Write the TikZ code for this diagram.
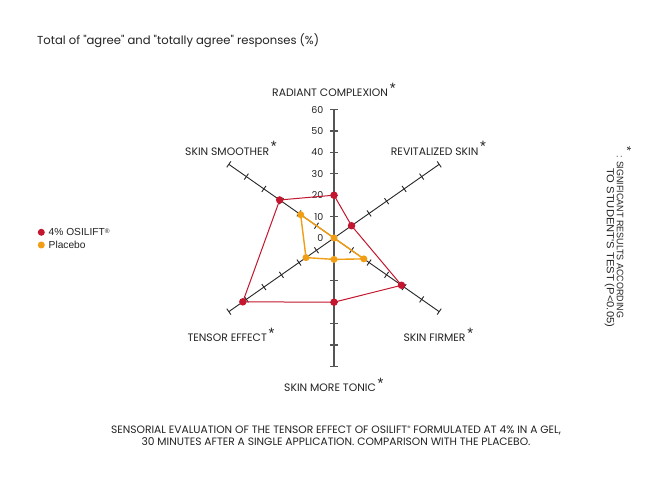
\documentclass[tikz,border=0pt]{standalone}
\usepackage{fontspec}
\setmainfont{Poppins}
\newfontfamily\popplain{Poppins}[Ligatures=TeXOff]
\newfontfamily\arialf{Liberation Sans}
\usetikzlibrary{calc}
\definecolor{osired}{RGB}{196,22,46}
\definecolor{placeborange}{RGB}{242,158,20}
\definecolor{axisgray}{RGB}{85,85,85}
\definecolor{txtgray}{RGB}{35,35,35}
\newcommand{\sigstar}{\,\raisebox{3.5pt}{\arialf\fontsize{15}{15}\selectfont *}}
\begin{document}
\begin{tikzpicture}[x=1pt,y=1pt,
  diagaxis/.style={draw=black!85,line width=0.9pt},
  vaxis/.style={draw=axisgray,line width=1.4pt},
  num/.style={font=\fontsize{9.5}{9.5}\selectfont,text=txtgray,anchor=east,inner sep=0pt},
  axlabel/.style={font=\fontsize{10.8}{10.8}\selectfont,text=txtgray,anchor=west,inner sep=0pt},
  legtext/.style={font=\arialf\fontsize{10.2}{10.2}\selectfont,text=txtgray,anchor=west,inner sep=0pt},
  redline/.style={draw=osired,line width=1pt,line join=round},
  orangeline/.style={draw=placeborange,line width=1.4pt,line join=round},
  reddot/.style={fill=osired,circle,inner sep=0pt,minimum size=7.5pt},
  orangedot/.style={fill=placeborange,circle,inner sep=0pt,minimum size=7pt},
  rottext/.style={text=txtgray,rotate=-90,anchor=west,inner sep=0pt}
]
\useasboundingbox (0,0) rectangle (668,484);
\fill[white] (0,0) rectangle (668,484);
\coordinate (C) at (334,246);

% diagonal axes with ticks
\foreach \a in {35,145,215,-35}{
  \begin{scope}[shift={(C)},rotate=\a]
    \draw[diagaxis] (0,0) -- (128.4,0);
    \foreach \i in {1,...,6} \draw[diagaxis] (21.4*\i,-3.6) -- (21.4*\i,3.6);
  \end{scope}
}
% vertical axis with ticks
\draw[vaxis] (334,117.6) -- (334,374.4);
\foreach \i in {1,...,6}{
  \draw[vaxis,line width=1.2pt] (330.2,246+21.4*\i) -- (337.8,246+21.4*\i);
  \draw[vaxis,line width=1.2pt] (330.2,246-21.4*\i) -- (337.8,246-21.4*\i);
}
% scale numbers
\foreach \v in {0,10,...,60} \node[num] at (323.5,246+2.14*\v) {\v};

% data points
\coordinate (rUp) at ($(C)+(90:42.8)$);
\coordinate (rUR) at ($(C)+(35:21.4)$);
\coordinate (rLR) at ($(C)+(-35:82.4)$);
\coordinate (rDn) at ($(C)+(270:64.2)$);
\coordinate (rLL) at ($(C)+(215:111.3)$);
\coordinate (rUL) at ($(C)+(145:66.3)$);
\coordinate (oLR) at ($(C)+(-35:36.4)$);
\coordinate (oDn) at ($(C)+(270:21.4)$);
\coordinate (oLL) at ($(C)+(215:34.2)$);
\coordinate (oUL) at ($(C)+(145:40.7)$);

\draw[redline] (rUp) -- (rUR) -- (rLR) -- (rDn) -- (rLL) -- (rUL) -- cycle;
\draw[orangeline] (C) -- (oLR) -- (oDn) -- (oLL) -- (oUL) -- cycle;
\foreach \p in {rUp,rUR,rLR,rDn,rLL,rUL} \node[reddot] at (\p) {};
\foreach \p in {C,oLR,oDn,oLL,oUL} \node[orangedot] at (\p) {};

% axis labels
\node[axlabel] (lRad) at (272,394) {RADIANT COMPLEXION\sigstar};
\node[axlabel] (lSmo) at (185,335.7) {SKIN SMOOTHER\sigstar};
\node[axlabel] (lRev) at (390.7,335.7) {REVITALIZED SKIN\sigstar};
\node[axlabel] (lTen) at (187.3,149) {TENSOR EFFECT\sigstar};
\node[axlabel] (lFir) at (403.3,149) {SKIN FIRMER\sigstar};
\node[axlabel] (lTon) at (284,99) {SKIN MORE TONIC\sigstar};

% title
\node[anchor=west,inner sep=0pt,font=\popplain\fontsize{11.6}{11.6}\selectfont,text=txtgray] (title) at (37,443)
  {Total of "agree" and "totally agree" responses (\%)};

% legend
\node[reddot,minimum size=7pt] (dRed) at (41.3,251.7) {};
\node[orangedot] (dOr) at (41.3,239) {};
\node[legtext] (tRed) at (48.5,251.7) {4\% OSILIFT\raisebox{2.8pt}{\fontsize{6.5}{6.5}\selectfont ®}};
\node[legtext] (tOr) at (48.5,239) {Placebo};

% caption
\node[inner sep=0pt,align=center,font=\fontsize{10.7}{12}\selectfont,text=txtgray] (cap) at (336,48)
  {SENSORIAL EVALUATION OF THE TENSOR EFFECT OF OSILIFT\raisebox{3pt}{\fontsize{6.5}{6.5}\selectfont ®} FORMULATED AT 4\% IN A GEL,\\
   30 MINUTES AFTER A SINGLE APPLICATION. COMPARISON WITH THE PLACEBO.};

% significance note
\node[rottext,font=\arialf\fontsize{12}{12}\selectfont,anchor=center] (nstar) at (627,335) {*};
\node[rottext] (n1) at (620,329)
  {\resizebox{163pt}{\height}{\arialf\fontsize{9.4}{9.4}\selectfont : SIGNIFICANT RESULTS ACCORDING}};
\node[rottext] (n2) at (609.5,316)
  {\resizebox{159pt}{\height}{\arialf\fontsize{10.3}{10.3}\selectfont TO STUDENT'S TEST (P<0.05)}};
\end{tikzpicture}
\end{document}
